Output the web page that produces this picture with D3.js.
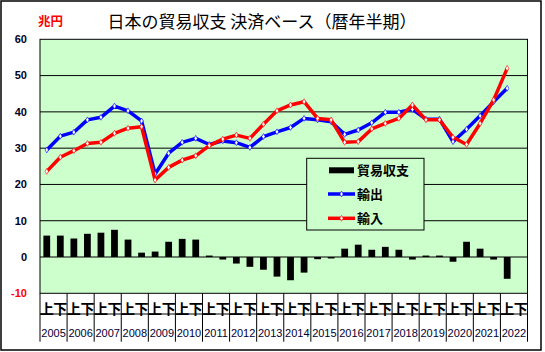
<!DOCTYPE html>
<html>
<head>
<meta charset="utf-8">
<script src="https://cdn.jsdelivr.net/npm/d3@7"></script>
<style>
  body { margin: 0; background: #fff; }
  svg { display: block; }
</style>
</head>
<body>
<div id="chart"></div>
<script>
// half-year categories 2005上 .. 2022下
const years = ["2005","2006","2007","2008","2009","2010","2011","2012","2013",
               "2014","2015","2016","2017","2018","2019","2020","2021","2022"];
const halves = ["上", "下"];

// 兆円, 2005上 .. 2022上 (2022下 not yet available)
const exportsVals = [29.5,33.3,34.4,37.8,38.5,41.6,40.3,37.5,22.9,28.6,31.6,32.7,
                     31.0,32.0,31.5,30.2,33.2,34.5,35.7,38.2,37.8,37.3,33.8,35.0,
                     37.0,39.9,39.9,40.7,38.0,38.0,31.8,35.2,38.9,42.8,46.5];
const importsVals = [23.6,27.5,29.3,31.3,31.6,34.1,35.5,35.9,21.2,24.7,26.7,27.9,
                     30.7,32.5,33.6,32.7,36.6,40.3,41.9,42.8,38.2,37.8,31.6,31.8,
                     35.3,36.8,38.2,41.9,37.8,37.8,33.0,31.0,36.8,43.3,52.0];
const balanceVals = [5.9,5.9,5.1,6.4,6.7,7.5,4.8,1.2,1.5,4.2,5.0,4.8,
                     0.4,-0.7,-1.8,-2.7,-3.5,-5.4,-6.4,-4.3,-0.6,-0.4,2.3,3.4,
                     2.0,2.8,2.0,-0.7,0.4,0.4,-1.3,4.2,2.3,-0.7,-6.0];
const yTicks = [-10, 0, 10, 20, 30, 40, 50, 60];

const W = 545, H = 352;
const plot = { left: 40, right: 527.5, top: 39.3, bottom: 293.3 };

const cats = [];
years.forEach(y => halves.forEach(h => cats.push(y + h)));

const svg = d3.select("#chart").append("svg")
    .attr("width", W).attr("height", H);

// outer frame
svg.append("rect")
    .attr("x", 1).attr("y", 1).attr("width", 540).attr("height", 349)
    .attr("fill", "#fff").attr("stroke", "#000").attr("stroke-width", 1.5);

const x = d3.scaleBand().domain(cats).range([plot.left, plot.right]).padding(0);
const y = d3.scaleLinear().domain([-10, 60]).range([plot.bottom, plot.top]);

// plot background
svg.append("rect")
    .attr("x", plot.left).attr("y", plot.top)
    .attr("width", plot.right - plot.left).attr("height", plot.bottom - plot.top)
    .attr("fill", "#CCFFCC");

// gridlines
svg.append("g").selectAll("line")
    .data(yTicks.filter(t => t > -10 && t < 60))
    .join("line")
    .attr("x1", plot.left).attr("x2", plot.right)
    .attr("y1", d => y(d)).attr("y2", d => y(d))
    .attr("stroke", "#000").attr("stroke-width", 1);

// y tick labels
svg.append("g").selectAll("text")
    .data(yTicks)
    .join("text")
    .attr("x", 27).attr("y", d => y(d)).attr("dy", "0.35em")
    .attr("text-anchor", "end")
    .attr("font-family", "Liberation Sans, Arial, sans-serif")
    .attr("font-weight", "bold").attr("font-size", 11)
    .attr("fill", d => d === -10 ? "#ff0000" : "#000022")
    .text(d => d);

// bars (貿易収支)
const barW = x.bandwidth() * 0.5;
svg.append("g").selectAll("rect")
    .data(balanceVals)
    .join("rect")
    .attr("x", (d, i) => x(cats[i]) + (x.bandwidth() - barW) / 2)
    .attr("y", d => y(Math.max(0, d)))
    .attr("width", barW)
    .attr("height", d => Math.abs(y(d) - y(0)))
    .attr("fill", "#000");

// lines
const cx = i => x(cats[i]) + x.bandwidth() / 2;
function drawSeries(vals, color) {
    const line = d3.line().x((d, i) => cx(i)).y(d => y(d));
    svg.append("path")
        .datum(vals)
        .attr("d", line)
        .attr("fill", "none").attr("stroke", color)
        .attr("stroke-width", 3.5).attr("stroke-linejoin", "round");
    svg.append("g").selectAll("path")
        .data(vals)
        .join("path")
        .attr("d", d3.symbol().type(d3.symbolDiamond).size(10))
        .attr("transform", (d, i) => `translate(${cx(i)},${y(d)})`)
        .attr("fill", "#fff").attr("stroke", color).attr("stroke-width", 0.6);
}
drawSeries(exportsVals, "#0000ff");
drawSeries(importsVals, "#ff0000");

// plot border
svg.append("rect")
    .attr("x", plot.left).attr("y", plot.top)
    .attr("width", plot.right - plot.left).attr("height", plot.bottom - plot.top)
    .attr("fill", "none").attr("stroke", "#000").attr("stroke-width", 1);

// category axis: 上/下 row, then years
const axisG = svg.append("g");
axisG.append("line")
    .attr("x1", plot.left).attr("x2", plot.right)
    .attr("y1", 314).attr("y2", 314)
    .attr("stroke", "#000");
axisG.selectAll("text.half")
    .data(cats)
    .join("text")
    .attr("class", "half")
    .attr("x", d => x(d) + x.bandwidth() / 2)
    .attr("y", 314)
    .attr("text-anchor", "middle")
    .attr("font-family", "Noto Sans CJK JP, sans-serif")
    .attr("font-weight", "bold").attr("font-size", 14)
    .attr("fill", "#000")
    .text(d => d.slice(-1));
axisG.selectAll("line.sep")
    .data(years.concat(["end"]))
    .join("line")
    .attr("class", "sep")
    .attr("x1", (d, i) => i < years.length ? x(d + "上") : plot.right)
    .attr("x2", (d, i) => i < years.length ? x(d + "上") : plot.right)
    .attr("y1", plot.bottom).attr("y2", 341.7)
    .attr("stroke", "#000");
axisG.selectAll("text.year")
    .data(years)
    .join("text")
    .attr("class", "year")
    .attr("x", d => x(d + "上") + x.bandwidth())
    .attr("y", 333).attr("dy", "0.35em")
    .attr("text-anchor", "middle")
    .attr("font-family", "Liberation Sans, Arial, sans-serif")
    .attr("font-size", 11)
    .attr("fill", "#000033")
    .text(d => d);

// title and unit
svg.append("text")
    .attr("x", 262).attr("y", 22).attr("dy", "0.35em")
    .attr("text-anchor", "middle")
    .attr("font-family", "Noto Sans CJK JP, sans-serif")
    .attr("font-size", 17)
    .attr("fill", "#000")
    .text("日本の貿易収支 決済ベース（暦年半期）");
svg.append("text")
    .attr("x", 38).attr("y", 21.5).attr("dy", "0.35em")
    .attr("font-family", "Noto Sans CJK JP, sans-serif")
    .attr("font-weight", "bold").attr("font-size", 12.5)
    .attr("fill", "#ff0000")
    .text("兆円");

// legend
const leg = svg.append("g");
leg.append("rect")
    .attr("x", 306.7).attr("y", 158.3).attr("width", 117.3).attr("height", 71.7)
    .attr("fill", "#CCFFCC").attr("stroke", "#000").attr("stroke-width", 1);
const legItems = [
    { label: "貿易収支", type: "bar", color: "#000" },
    { label: "輸出", type: "line", color: "#0000ff" },
    { label: "輸入", type: "line", color: "#ff0000" }
];
const legY = [170.3, 194, 218.3];
legItems.forEach((it, i) => {
    const ly = legY[i];
    if (it.type === "bar") {
        leg.append("rect")
            .attr("x", 329).attr("y", ly - 3).attr("width", 25).attr("height", 6)
            .attr("fill", it.color);
    } else {
        leg.append("line")
            .attr("x1", 328).attr("x2", 355).attr("y1", ly).attr("y2", ly)
            .attr("stroke", it.color).attr("stroke-width", 3.5);
        leg.append("path")
            .attr("d", d3.symbol().type(d3.symbolDiamond).size(10))
            .attr("transform", `translate(341.5,${ly})`)
            .attr("fill", "#fff").attr("stroke", it.color).attr("stroke-width", 0.6);
    }
    leg.append("text")
        .attr("x", 357).attr("y", ly).attr("dy", "0.35em")
        .attr("font-family", "Noto Sans CJK JP, sans-serif")
        .attr("font-weight", "bold").attr("font-size", 13)
        .attr("fill", "#000")
        .text(it.label);
});
</script>
</body>
</html>
